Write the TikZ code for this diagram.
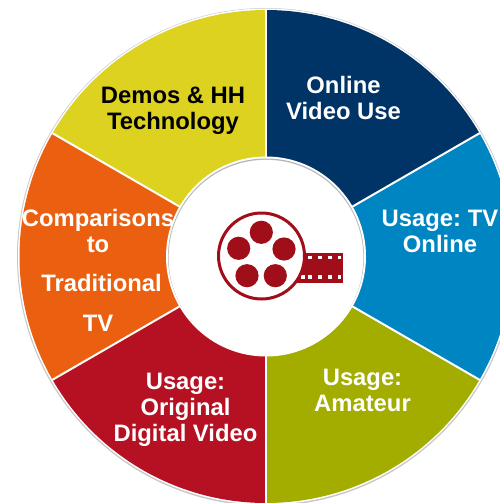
\documentclass[tikz,border=0pt]{standalone}
\usepackage{fontspec}
\setmainfont{Liberation Sans}
\definecolor{cyellow}{HTML}{DDD21F}
\definecolor{cnavy}{HTML}{003366}
\definecolor{cblue}{HTML}{0085C3}
\definecolor{colive}{HTML}{A2AD00}
\definecolor{cred}{HTML}{B51122}
\definecolor{corange}{HTML}{EB6010}
\definecolor{creel}{HTML}{A00E1A}
\tikzset{
  seglabel/.style={font=\fontsize{23.8}{26}\selectfont\bfseries, text=white, align=center, inner sep=0pt},
  darklabel/.style={seglabel, text=black},
  divider/.style={draw=white, line width=2pt},
  hole/.style={fill=creel, draw=none},
  perf/.style={fill=white, draw=none, minimum size=3.4pt, inner sep=0pt}
}
\newcommand{\wedgeseg}[3]{\fill[#1] (266,256.5) -- ++(#2:246.5) arc[start angle=#2, end angle=#3, radius=246.5] -- cycle;}
\begin{document}
\begin{tikzpicture}[x=1pt,y=-1pt]
\useasboundingbox (0,0) rectangle (500,503);
\begin{scope}
\clip (0,0) rectangle (500,503);
\fill[white] (0,0) rectangle (500,503);
\fill[black!22] (266,257) circle[radius=249];
\fill[white] (266,256.5) circle[radius=248];
% note: y axis points down, so angles run clockwise on the page
\wedgeseg{cnavy}{-90}{-30}
\wedgeseg{cblue}{-30}{30}
\wedgeseg{colive}{30}{90}
\wedgeseg{cred}{90}{150}
\wedgeseg{corange}{150}{210}
\wedgeseg{cyellow}{210}{270}
\foreach \a in {90,30,-30,-90,-150,150}
  \draw[divider] (266,256.5) -- ++(\a:247);
% hub
\fill[white] (266,256.5) circle[radius=100];
\fill[black!30] (266,256.5) circle[radius=98];
\fill[black!15] (266,257.2) circle[radius=97.6];
\fill[black!7] (266,258) circle[radius=97.2];
\fill[white] (266,259) circle[radius=96.8];
\fill[white] (266,257) circle[radius=97];
\end{scope}
% film strip
\fill[creel] (296,252.7) rectangle (343,282.7);
\foreach \x in {310,320,330,339.5}
  \node[perf] at (\x,257.7) {};
\foreach \x in {303,310,320,330,339.5}
  \node[perf] at (\x,277) {};
% reel
\draw[creel, line width=3pt, fill=white] (261.5,256) circle[radius=43];
\fill[hole] (261.3,232.3) circle[radius=11.6];
\fill[hole] (238.7,248.3) circle[radius=11.6];
\fill[hole] (284,249) circle[radius=11.6];
\fill[hole] (247,275.7) circle[radius=11.6];
\fill[hole] (275.3,275.7) circle[radius=11.6];
% labels
\node[seglabel] (online) at (343.5,98) {Online\\Video Use};
\node[seglabel] (tvonline) at (440,231.5) {Usage:\hspace{-2pt} TV\\Online};
\node[seglabel] (amateur) at (362.5,390) {Usage:\\Amateur};
\node[seglabel] (original) at (185.5,410) {Usage:\\Original\\Digital Video};
\node[seglabel] (compare) at (98,270) {Comparisons\\to\\[13pt]\hspace*{7pt}Traditional\\[14pt]TV};
\node[darklabel] (demos) at (173,111) {Demos \& HH\\Technology};
\end{tikzpicture}
\end{document}
